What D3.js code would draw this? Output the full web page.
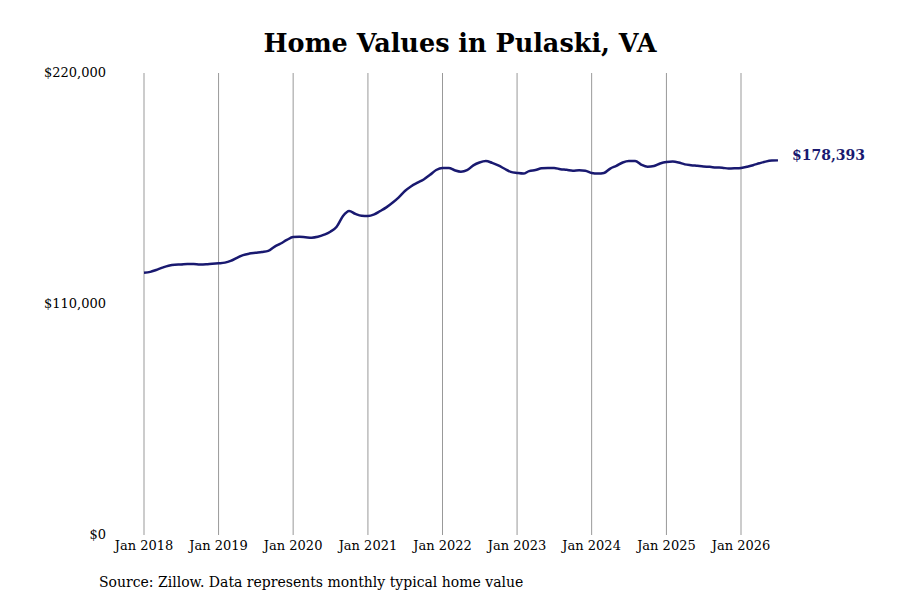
<!DOCTYPE html>
<html><head><meta charset="utf-8">
<script src="https://cdn.jsdelivr.net/npm/d3@7"></script>
<style>body{margin:0;background:#fff}svg{font-family:"DejaVu Serif",serif}</style>
</head><body><svg id="c" width="900" height="600"></svg>
<script>
//monthly typical home value, Jan 2018 - Jul 2026
var startMonth = new Date(2018, 0, 1);
var homeValues = [
  124900,125300,126200,127300,128200,128700,128800,129000,129000,128800,128900,129200,
  129400,129700,130500,132000,133300,134000,134400,134800,135300,137200,138800,140500,
  141900,142000,141800,141600,142000,143000,144400,146800,151900,154300,152900,152000,
  151900,152700,154200,156000,158200,160800,163800,166100,167800,169300,171500,173800,
  174800,174800,173700,173000,173700,176000,177400,178100,177200,176000,174400,172900,
  172400,172100,173300,173800,174600,174800,174800,174200,173900,173500,173700,173500,
  172400,172100,172400,174500,175800,177400,178100,178100,176300,175400,175700,176900,
  177600,177800,177400,176500,176100,175800,175500,175300,175000,174900,174500,174600,
  174800,175400,176100,177000,177800,178300,178393
];
var yTicks = [0, 110000, 220000];
var xTickYears = [2018,2019,2020,2021,2022,2023,2024,2025,2026];

var data = homeValues.map(function(v, i) {
  return {date: d3.timeMonth.offset(startMonth, i), value: v};
});

var svg = d3.select('#c');
var x = d3.scaleTime().domain([new Date(2018,0,1), new Date(2026,0,1)]).range([144, 741]);
var y = d3.scaleLinear().domain([0, 220000]).range([535, 73]);

//title
svg.append('text').attr('x', 460).attr('y', 52).attr('text-anchor', 'middle')
  .style('font-size', '25.5px').style('font-weight', 'bold').text('Home Values in Pulaski, VA');

//vertical grid
svg.selectAll('.grid').data(xTickYears).enter().append('line')
  .attr('x1', function(d) { return x(new Date(d,0,1)); })
  .attr('x2', function(d) { return x(new Date(d,0,1)); })
  .attr('y1', 73).attr('y2', 535)
  .attr('stroke', '#999').attr('stroke-width', 1);

//x labels
svg.selectAll('.xl').data(xTickYears).enter().append('text')
  .attr('x', function(d) { return x(new Date(d,0,1)); })
  .attr('y', 550).attr('text-anchor', 'middle').style('font-size', '13px')
  .text(function(d) { return 'Jan ' + d; });

//y labels
var fmt = d3.format('$,');
svg.selectAll('.yl').data(yTicks).enter().append('text')
  .attr('x', 106).attr('y', function(d) { return y(d) + 4; })
  .attr('text-anchor', 'end').style('font-size', '13px')
  .text(function(d) { return fmt(d); });

//line
var line = d3.line().curve(d3.curveMonotoneX)
  .x(function(d) { return x(d.date); })
  .y(function(d) { return y(d.value); });
svg.append('path').datum(data).attr('d', line)
  .attr('fill', 'none').attr('stroke', '#191970').attr('stroke-width', 2.5);

//end label
var last = data[data.length - 1];
svg.append('text').attr('x', x(last.date) + 14).attr('y', y(last.value))
  .style('font-size', '14px').style('font-weight', 'bold').attr('fill', '#191970')
  .text(fmt(last.value));

//source
svg.append('text').attr('x', 99).attr('y', 587).style('font-size', '14px')
  .text('Source: Zillow. Data represents monthly typical home value');
</script></body></html>
